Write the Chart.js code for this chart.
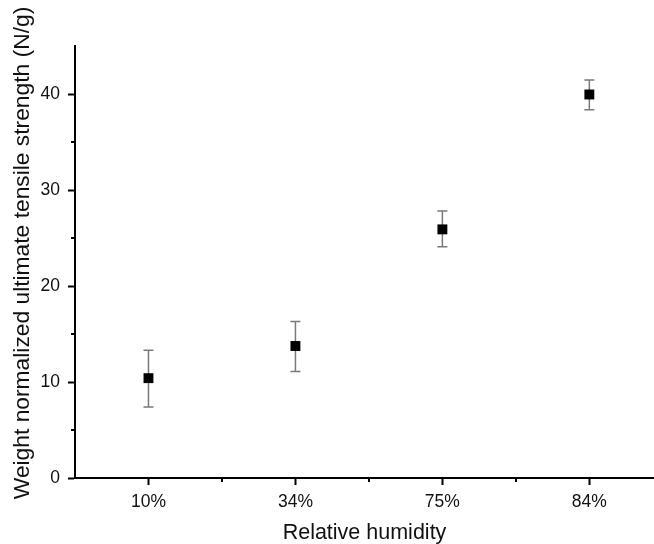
<!DOCTYPE html>
<html>
<head>
<meta charset="utf-8">
<script src="https://cdn.jsdelivr.net/npm/chart.js@4"></script>
<style>
  html,body{margin:0;padding:0;background:#fff;overflow:hidden}
  #wrap{width:654px;height:544px;position:relative}
</style>
</head>
<body>
<div id="wrap"><canvas id="chart"></canvas></div>
<script>
// dati
const humidity = ['10%','34%','75%','84%'];
const strength = [10.4, 13.75, 25.9, 39.95];
const errLow   = [7.4, 11.1, 24.1, 38.35];
const errHigh  = [13.3, 16.3, 27.8, 41.45];
const yTicks = [0,10,20,30,40];
const yMinor = [5,15,25,35];
const xMinor = [0.5,1.5,2.5];
const yTitle = 'Weight normalized ultimate tensile strength (N/g)';

const FONT = "'Liberation Sans', Arial, sans-serif";

// barre d'errore disegnate sotto i marker
const errorBars = {
  id:'errorBars',
  beforeDatasetsDraw(chart){
    const {ctx, scales:{x,y}} = chart;
    ctx.save();
    ctx.strokeStyle = '#7a7a7a';
    ctx.lineWidth = 1.5;
    strength.forEach((v,i)=>{
      const px = x.getPixelForValue(i);
      const top = y.getPixelForValue(errHigh[i]);
      const bot = y.getPixelForValue(errLow[i]);
      ctx.beginPath();
      ctx.moveTo(px, top); ctx.lineTo(px, bot);
      ctx.moveTo(px-5, top); ctx.lineTo(px+5, top);
      ctx.moveTo(px-5, bot); ctx.lineTo(px+5, bot);
      ctx.stroke();
    });
    ctx.restore();
  }
};

// tacche minori (Chart.js non le ha) + titolo asse y un po' spostato in alto
const minorTicks = {
  id:'minorTicks',
  afterDraw(chart){
    const {ctx, chartArea, scales:{x,y}} = chart;
    ctx.save();
    ctx.strokeStyle = '#000';
    ctx.lineWidth = 2;
    ctx.beginPath();
    xMinor.forEach(v=>{
      const px = Math.round(x.getPixelForValue(v));
      ctx.moveTo(px, chartArea.bottom); ctx.lineTo(px, chartArea.bottom+4);
    });
    yMinor.forEach(v=>{
      const py = Math.round(y.getPixelForValue(v));
      ctx.moveTo(chartArea.left, py); ctx.lineTo(chartArea.left-4, py);
    });
    ctx.stroke();

    ctx.translate(23, 253);
    ctx.rotate(-Math.PI/2);
    ctx.fillStyle = '#111';
    ctx.font = `22.8px ${FONT}`;
    ctx.textAlign = 'center';
    ctx.textBaseline = 'middle';
    ctx.fillText(yTitle, 0, 0);
    ctx.restore();
  }
};

new Chart(document.getElementById('chart'), {
  type:'scatter',
  data:{
    datasets:[{
      data: strength.map((v,i)=>({x:i, y:v})),
      pointStyle:'rect',
      pointRadius:7,
      pointHoverRadius:7,
      backgroundColor:'#000',
      borderColor:'#000',
      borderWidth:0
    }]
  },
  options:{
    responsive:true,
    maintainAspectRatio:false,
    animation:false,
    layout:{autoPadding:false, padding:{top:46,right:0,left:0,bottom:0}},
    plugins:{legend:{display:false}, tooltip:{enabled:false}},
    scales:{
      x:{
        type:'linear',
        min:-0.5, max:3.44,
        afterBuildTicks(s){ s.ticks = humidity.map((h,i)=>({value:i})); },
        afterFit(s){ s.height = 66; s.paddingLeft = 0; s.paddingRight = 0; },
        border:{color:'#000', width:2},
        grid:{drawOnChartArea:false, tickLength:7, tickColor:'#000', tickWidth:2},
        ticks:{
          callback:(v)=>humidity[v],
          color:'#111', padding:7, maxRotation:0, autoSkip:false,
          font:{family:FONT, size:17.5}
        },
        title:{
          display:true, text:'Relative humidity', color:'#111',
          font:{family:FONT, size:21.5, lineHeight:1},
          padding:{top:0,bottom:0}
        }
      },
      y:{
        min:0, max:45,
        afterBuildTicks(s){ s.ticks = yTicks.map(v=>({value:v})); },
        afterFit(s){ s.width = 75; s.paddingTop = 0; s.paddingBottom = 0; },
        border:{color:'#000', width:2},
        grid:{drawOnChartArea:false, tickLength:7, tickColor:'#000', tickWidth:2},
        ticks:{
          color:'#111', padding:8,
          font:{family:FONT, size:17.5}
        }
      }
    }
  },
  plugins:[errorBars, minorTicks]
});
</script>
</body>
</html>
